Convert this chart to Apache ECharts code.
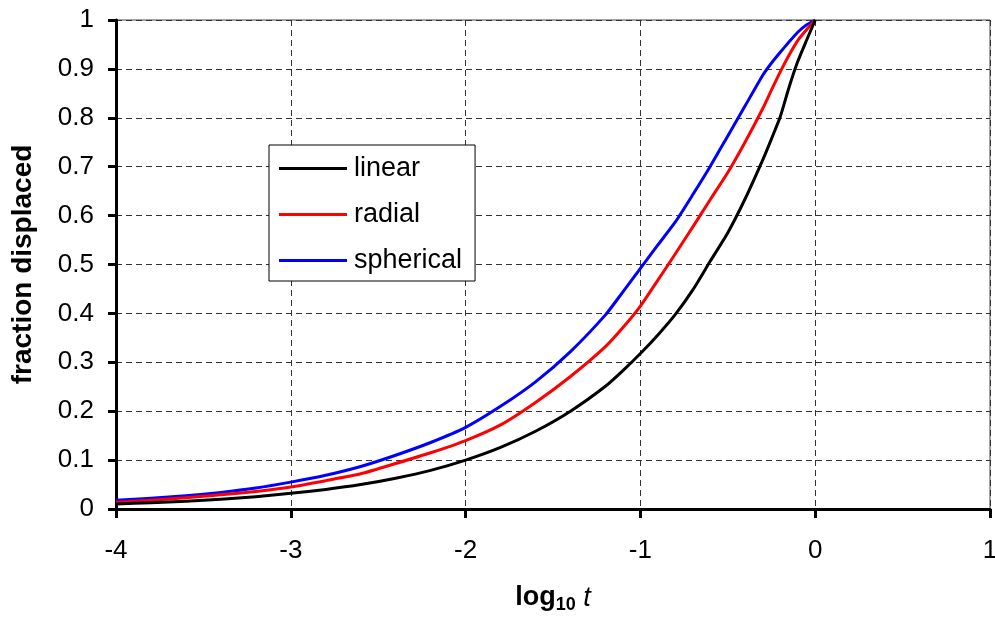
<!DOCTYPE html>
<html>
<head>
<meta charset="utf-8">
<script src="https://cdn.jsdelivr.net/npm/echarts@6/dist/echarts.min.js"></script>
<style>
html,body{margin:0;padding:0;background:#fff;}
#chart{width:995px;height:619px;}
</style>
</head>
<body>
<div id="chart"></div>
<script>
// log10 t values
var logT = [-4, -3.8, -3.6, -3.4, -3.2, -3.0, -2.8, -2.6, -2.4, -2.2, -2.0, -1.8, -1.6, -1.4, -1.2, -1.1, -1.0, -0.9, -0.8, -0.7, -0.6, -0.5, -0.4, -0.3, -0.25, -0.2, -0.15, -0.1, -0.05, 0];
var linear = [0.010, 0.013, 0.016, 0.020, 0.025, 0.032, 0.040, 0.050, 0.063, 0.079, 0.100, 0.126, 0.159, 0.200, 0.251, 0.283, 0.318, 0.356, 0.398, 0.448, 0.507, 0.565, 0.635, 0.714, 0.757, 0.802, 0.862, 0.915, 0.958, 1.0];
var radial = [0.014, 0.018, 0.023, 0.029, 0.036, 0.045, 0.058, 0.072, 0.093, 0.115, 0.140, 0.172, 0.218, 0.271, 0.332, 0.371, 0.415, 0.468, 0.522, 0.577, 0.633, 0.688, 0.751, 0.819, 0.857, 0.894, 0.928, 0.958, 0.980, 1.0];
var spherical = [0.018, 0.022, 0.027, 0.034, 0.043, 0.055, 0.069, 0.087, 0.110, 0.136, 0.167, 0.210, 0.260, 0.322, 0.397, 0.444, 0.492, 0.540, 0.587, 0.643, 0.701, 0.763, 0.825, 0.887, 0.912, 0.934, 0.955, 0.975, 0.990, 1.0];
var seriesNames = ['linear', 'radial', 'spherical'];
var seriesColors = ['#000000', '#ff0000', '#0000ff'];

function pairs(ys) { return logT.map(function (x, i) { return [x, ys[i]]; }); }

var FONT = '"Liberation Sans", Arial, sans-serif';
var chart = echarts.init(document.getElementById('chart'), null, {renderer: 'canvas'});
var allData = [linear, radial, spherical];

chart.setOption({
  animation: false,
  backgroundColor: '#ffffff',
  textStyle: {fontFamily: FONT},
  grid: {left: 116, right: 5, top: 20, bottom: 110, show: true, borderColor: '#444', borderWidth: 1,
         containLabel: false, outerBoundsMode: 'none'},
  legend: {
    orient: 'vertical',
    left: 269, top: 145,
    padding: [10, 13, 7, 10],
    icon: 'rect',
    itemWidth: 68, itemHeight: 3, itemGap: 19,
    borderColor: '#000', borderWidth: 1, backgroundColor: '#fff',
    textStyle: {fontFamily: FONT, fontSize: 27, color: '#000', lineHeight: 26, padding: [0, 0, 0, 2]},
    data: seriesNames
  },
  xAxis: {
    type: 'value', min: -4, max: 1, interval: 1,
    name: '{b|log}{s|10} {i|t}',
    nameLocation: 'middle', nameGap: 73,
    nameTextStyle: {
      rich: {
        b: {fontFamily: FONT, fontSize: 27, fontWeight: 'bold', color: '#000'},
        s: {fontFamily: FONT, fontSize: 18, fontWeight: 'bold', color: '#000', padding: [14, 4, 0, 0]},
        i: {fontFamily: FONT, fontSize: 27, fontStyle: 'italic', color: '#000'}
      }
    },
    axisLine: {show: true, onZero: false, lineStyle: {color: '#000', width: 3}},
    axisTick: {show: true, inside: false, length: 9, lineStyle: {color: '#000', width: 3}},
    axisLabel: {fontFamily: FONT, fontSize: 26, color: '#000', margin: 29},
    splitLine: {show: true, lineStyle: {color: '#333', width: 1, type: [6, 4]}}
  },
  yAxis: {
    type: 'value', min: 0, max: 1, interval: 0.1,
    name: 'fraction displaced',
    nameLocation: 'middle', nameGap: 79,
    nameTextStyle: {fontFamily: FONT, fontSize: 28, fontWeight: 'bold', color: '#000'},
    axisLine: {show: true, onZero: false, lineStyle: {color: '#000', width: 3}},
    axisTick: {show: true, inside: false, length: 8, lineStyle: {color: '#000', width: 3}},
    axisLabel: {fontFamily: FONT, fontSize: 26, color: '#000', margin: 22},
    splitLine: {show: true, lineStyle: {color: '#333', width: 1, type: [6, 4]}}
  },
  series: seriesNames.map(function (n, i) {
    return {
      name: n, type: 'line', data: pairs(allData[i]),
      symbol: 'none', showSymbol: false, smooth: 0.2,
      color: seriesColors[i],
      itemStyle: {color: seriesColors[i]},
      lineStyle: {color: seriesColors[i], width: 3, join: 'round'},
      z: 3 + (2 - i)
    };
  })
});
</script>
</body>
</html>
